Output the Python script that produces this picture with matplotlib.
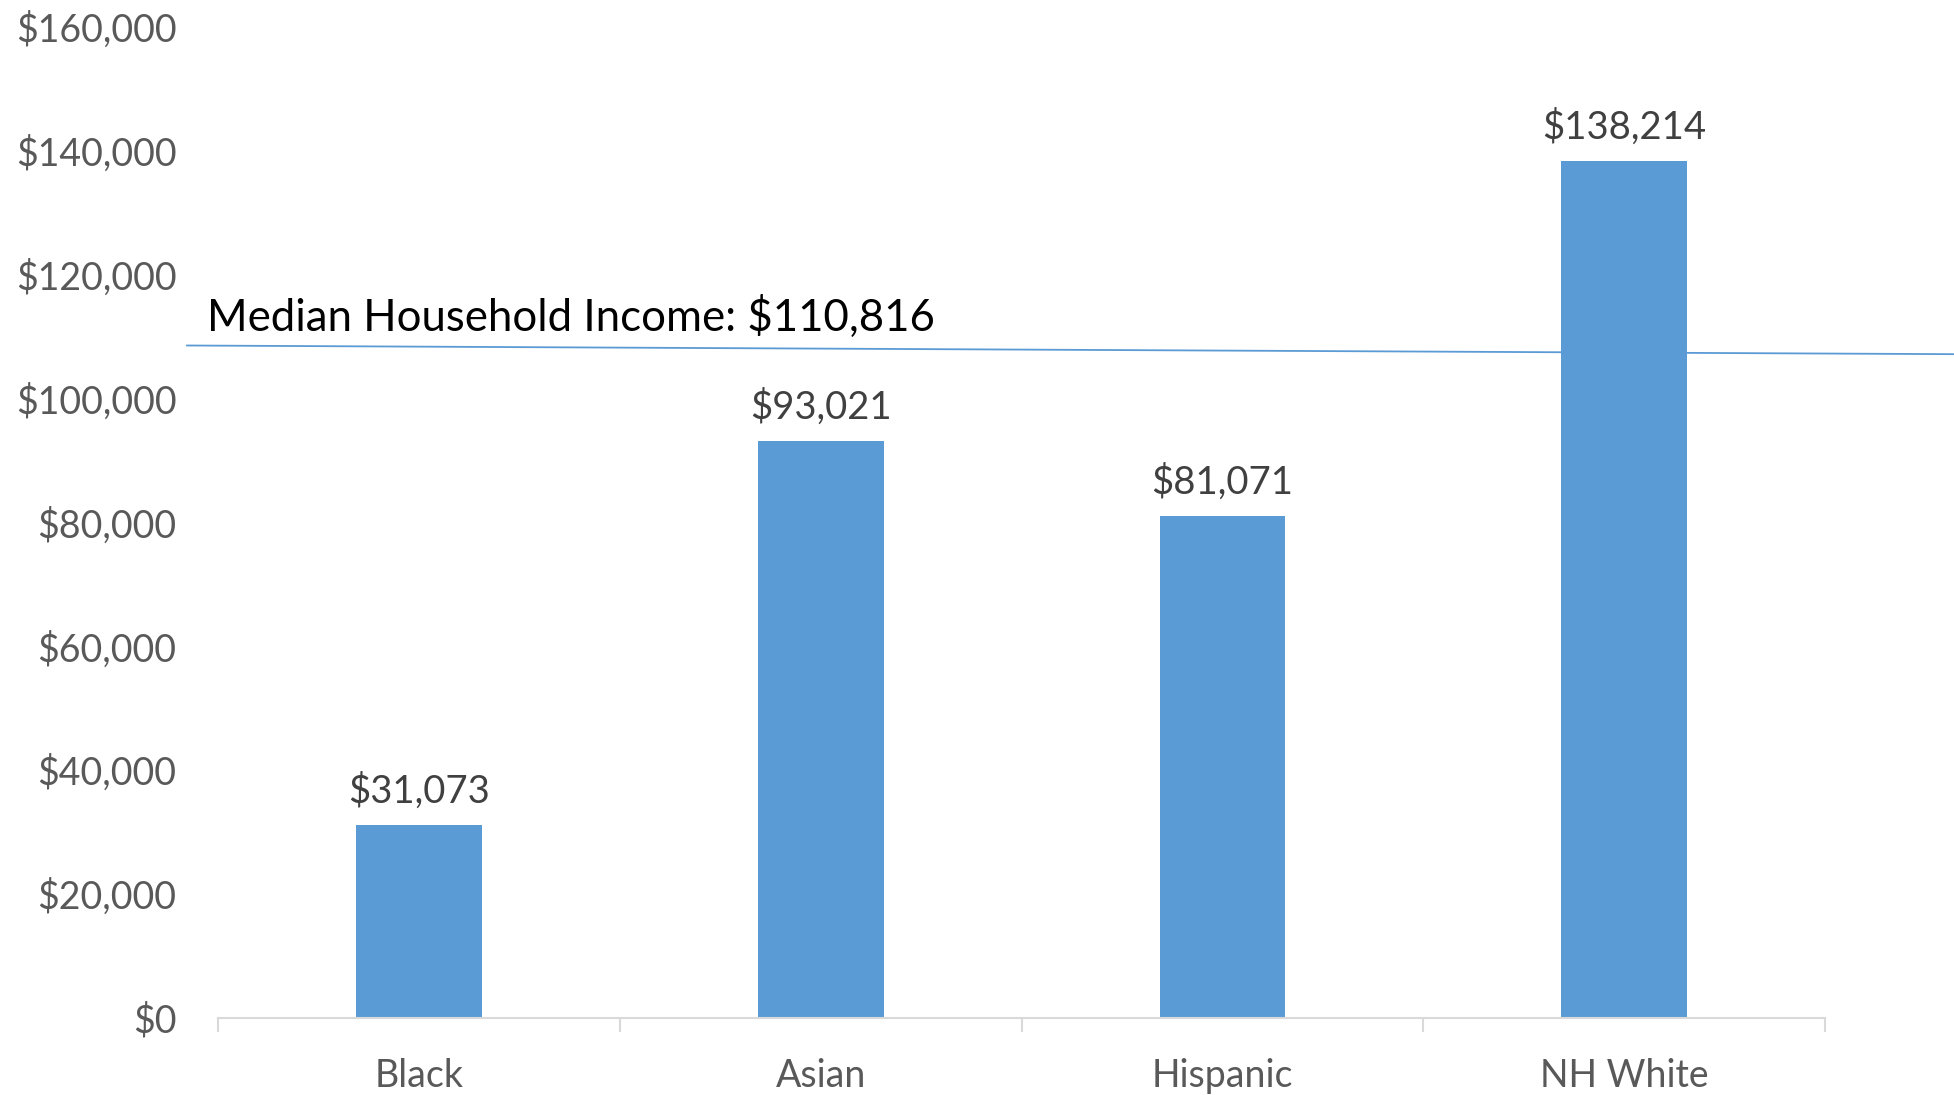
"""Median household income by race/ethnicity, bar chart with median line."""

import matplotlib
matplotlib.use("Agg")
import matplotlib.pyplot as plt
import matplotlib.transforms as mtransforms
from matplotlib.ticker import FuncFormatter


GROUPS = ["Black", "Asian", "Hispanic", "NH White"]
INCOME = [31073, 93021, 81071, 138214]
Y_TICKS = list(range(0, 160001, 20000))

MEDIAN_INCOME = 110816
# the drawn reference line sits a little below the label and tilts slightly
MEDIAN_LINE_Y = (108500, 107100)

BAR_COLOR = "#5B9BD5"
TICK_COLOR = "#595959"
LABEL_COLOR = "#404040"
AXIS_COLOR = "#D9D9D9"


def main():
    plt.rcParams["font.family"] = ["Lato", "DejaVu Sans"]
    fig = plt.figure(figsize=(19.54, 10.95), dpi=100)
    ax = fig.add_axes([0.1116, 0.0703, 0.8224, 0.9057])

    x = list(range(len(GROUPS)))
    bars = ax.bar(x, INCOME, width=0.313, color=BAR_COLOR, zorder=2)

    for rect, val in zip(bars, INCOME):
        ax.annotate(f"${val:,}", (rect.get_x() + rect.get_width() / 2, val),
                    xytext=(0, 11), textcoords="offset points",
                    ha="center", va="bottom", fontsize=27.5, color=LABEL_COLOR)

    ax.set_xlim(-0.5, len(GROUPS) - 0.5)
    ax.set_ylim(0, 160000)
    ax.set_yticks(Y_TICKS)
    ax.yaxis.set_major_formatter(FuncFormatter(lambda v, _: f"${v:,.0f}"))
    ax.tick_params(axis="y", length=0, pad=30, labelsize=27, labelcolor=TICK_COLOR)

    ax.set_xticks(x)
    ax.set_xticklabels(GROUPS)
    ax.tick_params(axis="x", which="major", length=0, pad=29,
                   labelsize=27, labelcolor=TICK_COLOR)
    ax.set_xticks([i - 0.5 for i in range(len(GROUPS) + 1)], minor=True)
    ax.tick_params(axis="x", which="minor", length=10, width=1.5,
                   color=AXIS_COLOR, direction="out")

    for side in ["top", "right", "left"]:
        ax.spines[side].set_visible(False)
    ax.spines["bottom"].set_color(AXIS_COLOR)
    ax.spines["bottom"].set_linewidth(1.5)

    # median line runs past the axes to the right edge of the figure
    trans = mtransforms.blended_transform_factory(fig.transFigure, ax.transData)
    ax.plot([0.0957, 1.0], MEDIAN_LINE_Y, color=BAR_COLOR, lw=1.3,
            transform=trans, clip_on=False, zorder=1)
    ax.text(0.106, MEDIAN_INCOME, f"Median Household Income: ${MEDIAN_INCOME:,}",
            transform=trans, fontsize=31.5, color="black", ha="left", va="baseline")

    fig.savefig("out.png", dpi=100)
    plt.close(fig)


if __name__ == "__main__":
    main()
